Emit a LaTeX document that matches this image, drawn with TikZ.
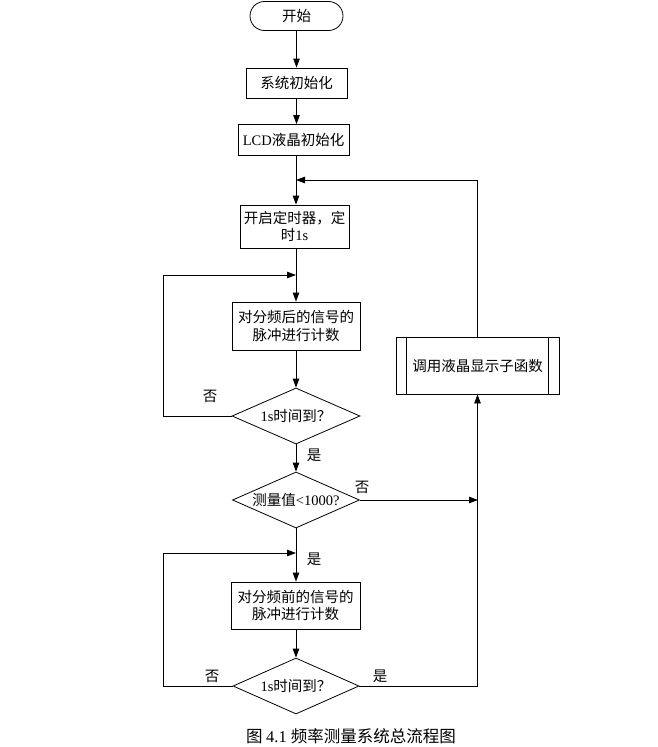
\documentclass[tikz,border=0pt]{standalone}
\usepackage{fontspec}
\setmainfont{Liberation Serif}
\newfontfamily\cjk{Noto Sans CJK SC}
\usetikzlibrary{arrows.meta,shapes.geometric,shapes.misc}
\begin{document}
\begin{tikzpicture}[x=1pt,y=-1pt,
  every node/.style={font=\fontsize{14.5}{17.5}\selectfont},
  line/.style={draw=black,line width=0.8pt},
  arr/.style={line,-{Triangle[length=9pt,width=6.5pt]}},
  procbox/.style={line,rectangle,inner sep=0pt,align=center},
  termbox/.style={line,rounded rectangle,inner sep=0pt},
  decbox/.style={line,diamond,inner sep=0pt,aspect=2.2},
  lbl/.style={inner sep=0pt}]
\useasboundingbox (0,0) rectangle (658,747);
% nodes
\node[termbox,minimum width=93pt,minimum height=29pt] (start) at (296.5,16) {\cjk 开始};
\node[procbox,minimum width=101pt,minimum height=30pt] (init1) at (296.5,83) {\cjk 系统初始化};
\node[procbox,minimum width=111pt,minimum height=31pt] (init2) at (293.5,140) {LCD\cjk 液晶初始化};
\node[procbox,minimum width=109pt,minimum height=43pt] (timer) at (294.5,226.5) {\cjk 开启定时器，定\\\cjk 时\rmfamily 1s};
\node[procbox,minimum width=128pt,minimum height=48pt] (cnt1) at (296,326) {\cjk 对分频后的信号的\\\cjk 脉冲进行计数};
\node[decbox,minimum width=128pt,minimum height=56pt] (d1) at (296,416) {1s\cjk 时间到？};
\node[decbox,minimum width=127pt,minimum height=56pt] (d2) at (296,500) {\cjk 测量值\rmfamily <1000?};
\node[procbox,minimum width=129pt,minimum height=47pt] (cnt2) at (295.5,605.5) {\cjk 对分频前的信号的\\\cjk 脉冲进行计数};
\node[decbox,minimum width=126pt,minimum height=56pt] (d3) at (296,686) {1s\cjk 时间到？};
\node[procbox,minimum width=163pt,minimum height=57pt] (sub) at (477.5,365.5) {\cjk 调用液晶显示子函数};
\draw[line] ([xshift=11pt]sub.north west) -- ([xshift=11pt]sub.south west);
\draw[line] ([xshift=-11pt]sub.north east) -- ([xshift=-11pt]sub.south east);
% junctions
\coordinate (j1) at (296,180);
\coordinate (j2) at (296,275);
\coordinate (j3) at (296,553);
\coordinate (r2) at (478,500);
\coordinate (ltop) at (163,275);
\coordinate (lbot) at (163,553);
% connectors
\draw[arr] (start.south) -- (init1.north);
\draw[arr] (init1.south) -- (init2.north -| init1.south);
\draw[arr] (init2.south -| j1) -- (timer.north -| j1);
\draw[arr] (timer.south -| j2) -- (cnt1.north -| j2);
\draw[arr] (cnt1.south) -- (d1.north);
\draw[arr] (d1.west) -| (ltop) -- (j2);
\draw[arr] (d1.south) -- (d2.north);
\draw[arr] (d2.east) -- (r2);
\draw[arr] (d2.south) -- (cnt2.north -| d2.south);
\draw[arr] (d3.west) -| (lbot) -- (j3);
\draw[arr] (cnt2.south -| d3.north) -- (d3.north);
\draw[arr] (d3.east) -| (sub.south);
\draw[arr] (sub.north) |- (j1);
% labels
\node[lbl] (n1) at (210,396) {\cjk 否};
\node[lbl] (y1) at (314,455) {\cjk 是};
\node[lbl] (n2) at (362,487) {\cjk 否};
\node[lbl] (y2) at (314,559) {\cjk 是};
\node[lbl] (n3) at (212,676) {\cjk 否};
\node[lbl] (y3) at (380,676) {\cjk 是};
\node[lbl,font=\fontsize{16.5}{19}\selectfont] (cap) at (351,736) {\cjk 图 \rmfamily 4.1 \cjk 频率测量系统总流程图};
\end{tikzpicture}
\end{document}
